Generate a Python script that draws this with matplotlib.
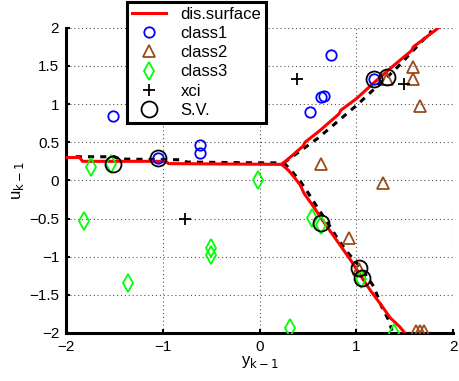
import matplotlib
matplotlib.use("Agg")
import matplotlib.pyplot as plt

plt.rcParams['font.family'] = ['Liberation Sans', 'DejaVu Sans']

# class data
c1_x = [-1.51, -1.05, -0.62, -0.62, 0.74, 0.64, 0.67, 0.52, 1.18]
c1_y = [0.84, 0.29, 0.46, 0.36, 1.65, 1.09, 1.10, 0.90, 1.33]
c2_x = [1.32, 1.59, 1.59, 1.66, 0.64, 1.28, 0.92, 1.03, 1.62, 1.66, 1.70]
c2_y = [1.33, 1.48, 1.33, 0.97, 0.21, -0.03, -0.75, -1.16, -1.98, -1.98, -1.98]
c3_x = [-1.74, -1.54, -0.02, -1.81, -1.36, -0.50, -0.50, 0.54, 0.63, 1.05, 0.31, 1.39]
c3_y = [0.17, 0.21, 0.00, -0.53, -1.34, -0.88, -0.98, -0.49, -0.58, -1.29, -1.93, -2.00]
xci_x = [0.39, 1.49, -0.77]
xci_y = [1.33, 1.27, -0.50]
sv_x = [-1.52, -1.05, 1.18, 1.32, 0.64, 1.03, 1.06]
sv_y = [0.22, 0.29, 1.33, 1.36, -0.56, -1.15, -1.28]

# discriminant surface (red), three branches
red_left_x = [-2.0, -1.86, -1.83, -0.97, -0.94, 0.23]
red_left_y = [0.30, 0.30, 0.25, 0.25, 0.22, 0.21]
red_up_x = [0.23, 0.35, 0.45, 0.47, 0.62, 0.82, 0.84, 1.00, 1.20, 1.40, 1.57, 1.59, 1.85]
red_up_y = [0.21, 0.34, 0.45, 0.50, 0.65, 0.87, 0.92, 1.07, 1.30, 1.52, 1.70, 1.75, 2.00]
red_lo_x = [0.23, 0.30, 0.36, 0.42, 0.46, 0.55, 0.65, 0.75, 0.85, 0.95, 1.05, 1.15, 1.25, 1.35, 1.45, 1.50]
red_lo_y = [0.21, 0.13, 0.04, -0.06, -0.17, -0.33, -0.52, -0.70, -0.88, -1.06, -1.26, -1.45, -1.62, -1.80, -1.92, -2.00]

# dashed boundary (black)
dash_left_x = [-1.90, -1.50, -1.45, -0.80, -0.75, 0.00, 0.25]
dash_left_y = [0.31, 0.31, 0.28, 0.27, 0.24, 0.23, 0.23]
dash_up_x = [0.25, 0.60, 1.00, 1.40, 1.78]
dash_up_y = [0.23, 0.55, 0.98, 1.45, 1.96]
dash_lo_x = [0.25, 0.32, 0.42, 0.50, 0.59, 0.70, 0.81, 0.90, 1.05, 1.18, 1.26, 1.33, 1.37]
dash_lo_y = [0.23, 0.14, -0.01, -0.16, -0.34, -0.55, -0.77, -0.93, -1.15, -1.39, -1.65, -1.82, -1.97]

xticks = [-2, -1, 0, 1, 2]
yticks = [-2, -1.5, -1, -0.5, 0, 0.5, 1, 1.5, 2]
yticklabels = ['\u22122', '\u22121.5', '\u22121', '\u22120.5', '0', '0.5', '1', '1.5', '2']
xticklabels = ['\u22122', '\u22121', '0', '1', '2']

fig = plt.figure(figsize=(4.59, 3.81), dpi=100)
ax = fig.add_axes([0.144, 0.126, 0.843, 0.801])

lw = 2.2
for xs, ys in [(dash_left_x, dash_left_y), (dash_up_x, dash_up_y), (dash_lo_x, dash_lo_y)]:
    ax.plot(xs, ys, color='black', lw=2.2, ls=(0, (2.0, 2.0)), zorder=3)
h_red, = ax.plot(red_left_x, red_left_y, color='red', lw=lw, zorder=4)
ax.plot(red_up_x, red_up_y, color='red', lw=lw, zorder=4)
ax.plot(red_lo_x, red_lo_y, color='red', lw=lw, zorder=4)

h1, = ax.plot(c1_x, c1_y, 'o', mfc='none', mec='blue', ms=7.5, mew=1.3, ls='none', zorder=5)
h2, = ax.plot(c2_x, c2_y, '^', mfc='none', mec='#994c1a', ms=8.5, mew=1.3, ls='none', zorder=5)
h3, = ax.plot(c3_x, c3_y, 'd', mfc='none', mec='#00ff00', ms=9, mew=1.3, ls='none', zorder=5)
h4, = ax.plot(xci_x, xci_y, '+', color='black', ms=9, mew=1.3, ls='none', zorder=5)
h5, = ax.plot(sv_x, sv_y, 'o', mfc='none', mec='black', ms=11.5, mew=1.3, ls='none', zorder=6)

ax.set_xlim(-2, 2)
ax.set_ylim(-2, 2)
ax.set_xticks(xticks)
ax.set_xticklabels(xticklabels)
ax.set_yticks(yticks)
ax.set_yticklabels(yticklabels)
ax.grid(True, color='#555555', ls=(0, (1, 2.5)), lw=0.8)
for s in ['top', 'right']:
    ax.spines[s].set_visible(False)
for s in ['left', 'bottom']:
    ax.spines[s].set_linewidth(2.2)
ax.tick_params(direction='in', length=3, width=1.5, labelsize=11, pad=5)
ax.set_xlabel('y$_{\\mathrm{k\u22121}}$', fontsize=12, labelpad=0)
ax.set_ylabel('u$_{\\mathrm{k\u22121}}$', fontsize=12, labelpad=2)

leg = ax.legend([h_red, h1, h2, h3, h4, h5], ['dis.surface', 'class1', 'class2', 'class3', 'xci', 'S.V.'],
                loc='upper left', bbox_to_anchor=(0.158, 1.085), fontsize=12,
                frameon=True, fancybox=False, framealpha=1, edgecolor='black',
                handlelength=2.0, labelspacing=0.25, borderpad=0.3, handletextpad=0.9, borderaxespad=0)
leg.get_frame().set_linewidth(2.2)
leg.set_zorder(10)

fig.savefig('out.png', dpi=100)
